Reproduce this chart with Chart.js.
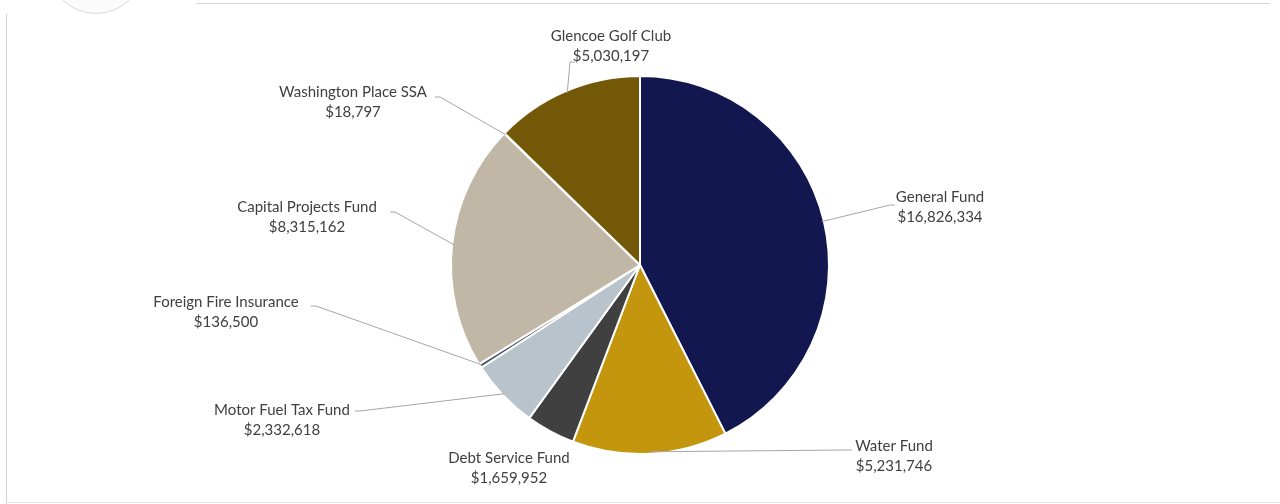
<!DOCTYPE html>
<html>
<head>
<meta charset="utf-8">
<script src="https://cdn.jsdelivr.net/npm/chart.js@4"></script>
<style>
  html, body { margin: 0; padding: 0; background: #fff; }
  #wrap { position: relative; width: 1280px; height: 504px; overflow: hidden; }
  #logo { position: absolute; left: 48px; top: -82px; width: 94px; height: 94px; border-radius: 50%;
          border: 1px solid #d6d9dc; background: #fbfbfc; }
  #topLine { position: absolute; left: 196px; top: 3px; width: 1074px; height: 1px; background: #d4d4d4; }
  #leftLine { position: absolute; left: 6px; top: 14px; width: 1px; height: 490px; background: #d4d4d4; }
  #bottomLine { position: absolute; left: 6px; top: 502px; width: 1274px; height: 1px; background: #e4e4e4; }
  canvas { position: absolute; left: 0; top: 0; }
</style>
</head>
<body>
<div id="wrap">
  <div id="logo"></div>
  <div id="topLine"></div>
  <div id="leftLine"></div>
  <div id="bottomLine"></div>
  <canvas id="fundChart" width="1280" height="504"></canvas>
</div>
<script>
// data
const funds = ["General Fund", "Water Fund", "Debt Service Fund", "Motor Fuel Tax Fund",
               "Foreign Fire Insurance", "Capital Projects Fund", "Washington Place SSA", "Glencoe Golf Club"];
const amounts = [16826334, 5231746, 1659952, 2332618, 136500, 8315162, 18797, 5030197];
const sliceColors = ["#13174f", "#c4960e", "#404040", "#b8c3cc", "#44546a", "#c0b7a6", "#7f7f7f", "#735807"];

// label placement, relative to the pie centre: text centre and leader elbow (null = no leader)
const labelLayout = [
  { tx: 300,  ty: -58, ex: 250,  ey: -60 },
  { tx: 254,  ty: 191, ex: 207,  ey: 185 },
  { tx: -131, ty: 203, ex: null, ey: null },
  { tx: -358, ty: 155, ex: -280, ey: 146 },
  { tx: -414, ty: 47,  ex: -324, ey: 41 },
  { tx: -333, ty: -48, ex: -245, ey: -53 },
  { tx: -287, ty: -163, ex: -200, ey: -168 },
  { tx: -29,  ty: -219, ex: -70,  ey: -203 }
];

const money = v => "$" + v.toLocaleString("en-US");

const leaderLabels = {
  id: "leaderLabels",
  afterDatasetsDraw(chart) {
    const ctx = chart.ctx;
    const arcs = chart.getDatasetMeta(0).data;
    ctx.save();
    arcs.forEach((arc, i) => {
      const lay = labelLayout[i];
      const cx = arc.x, cy = arc.y;
      const mid = (arc.startAngle + arc.endAngle) / 2;
      const tx = cx + lay.tx, ty = cy + lay.ty;
      if (lay.ex !== null) {
        const sx = cx + Math.cos(mid) * (arc.outerRadius - 2);
        const sy = cy + Math.sin(mid) * (arc.outerRadius - 2);
        const ex = cx + lay.ex, ey = cy + lay.ey;
        ctx.strokeStyle = "#a6a6a6";
        ctx.lineWidth = 1;
        ctx.beginPath();
        ctx.moveTo(sx, sy);
        ctx.lineTo(ex, ey);
        // short horizontal tail toward the text
        if (Math.abs(ex - tx) > 30) ctx.lineTo(ex + (tx > ex ? 5 : -5), ey);
        ctx.stroke();
      }
      ctx.fillStyle = "#404040";
      ctx.font = "15px Lato, 'Open Sans', sans-serif";
      ctx.textAlign = "center";
      ctx.textBaseline = "middle";
      ctx.fillText(funds[i], tx, ty - 10);
      ctx.fillText(money(amounts[i]), tx, ty + 10);
    });
    ctx.restore();
  }
};

new Chart(document.getElementById("fundChart"), {
  type: "pie",
  data: {
    labels: funds,
    datasets: [{
      data: amounts,
      backgroundColor: sliceColors,
      borderColor: "#ffffff",
      borderWidth: 2
    }]
  },
  options: {
    responsive: false,
    animation: false,
    layout: { padding: { top: 75, bottom: 49 } },
    plugins: {
      legend: { display: false },
      tooltip: { enabled: false }
    }
  },
  plugins: [leaderLabels]
});
</script>
</body>
</html>
